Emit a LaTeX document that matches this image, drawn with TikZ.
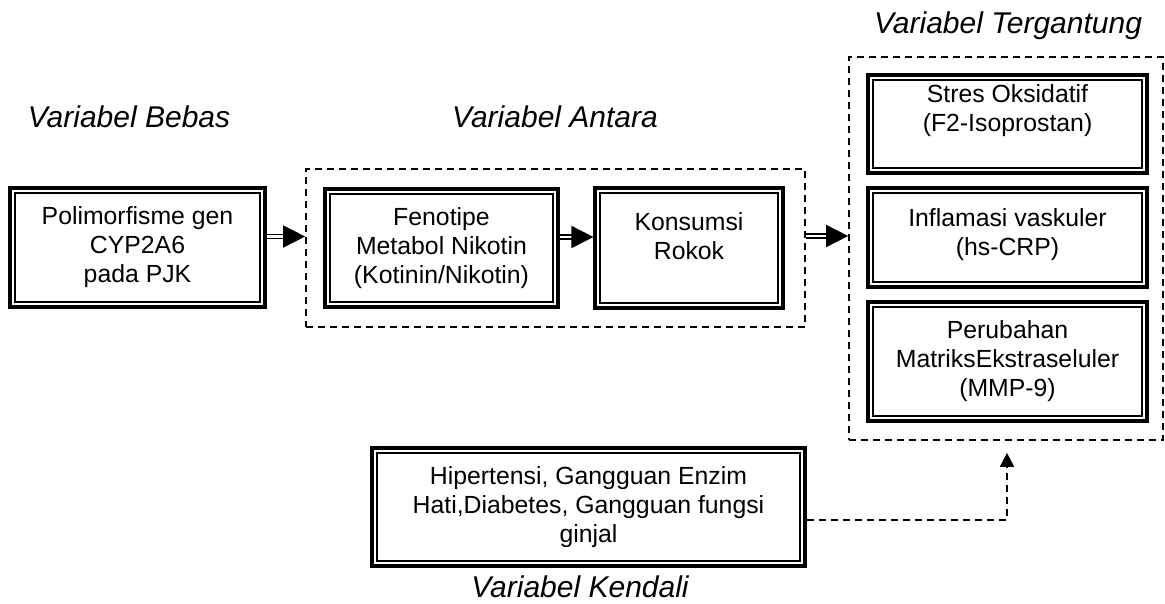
\documentclass[tikz,border=0pt]{standalone}
\usepackage{fontspec}
\setmainfont{Liberation Sans}
\usetikzlibrary{arrows.meta}
\begin{document}
\begin{tikzpicture}[x=1pt,y=-1pt,
  dbox/.style={draw, line width=3.2pt, inner sep=0pt, align=center,
    font=\fontsize{24.8}{29}\selectfont,
    path picture={\draw[line width=1.7pt]
      ([shift={(5pt,5pt)}]path picture bounding box.south west) rectangle
      ([shift={(-5pt,-5pt)}]path picture bounding box.north east);}},
  txt/.style={align=center, inner sep=0pt, font=\fontsize{24.8}{29}\selectfont},
  grp/.style={draw, line width=1.7pt, dash pattern=on 7pt off 5pt, inner sep=0pt},
  lab/.style={anchor=base, inner sep=0pt, font=\fontsize{30}{34}\selectfont\itshape},
  darrow/.style={double, double distance=2.2pt, line width=1.8pt,
    -{Triangle[length=22pt,width=22pt]}},
  karrow/.style={line width=1.7pt, dash pattern=on 7pt off 5pt,
    -{Triangle[length=14pt,width=14pt]}}
]
\useasboundingbox (0,0) rectangle (1165,603);
\fill[white] (0,0) rectangle (1165,603);

% groups
\node[grp, minimum width=499pt, minimum height=158pt] (antara) at (555.5,248) {};
\node[grp, minimum width=314pt, minimum height=383pt] (terg) at (1006,248.5) {};

% boxes
\node[dbox, minimum width=255pt, minimum height=119pt] (b1) at (137.5,247.5)
  {Polimorfisme gen\\CYP2A6\\pada PJK};
\node[dbox, minimum width=233pt, minimum height=118pt] (fen) at (441.5,248)
  {Fenotipe\\Metabol Nikotin\\(Kotinin/Nikotin)};
\node[dbox, minimum width=188pt, minimum height=120pt] (kon) at (689,248) {};
\node[txt] (kontxt) at ([yshift=12pt]kon.center) {Konsumsi\\Rokok};

\node[dbox, minimum width=279pt, minimum height=98pt] (stres) at (1007.5,124) {};
\node[txt] (strestxt) at ([yshift=13pt]stres.center) {Stres Oksidatif\\(F2-Isoprostan)};
\node[dbox, minimum width=279pt, minimum height=99pt] (infl) at (1007.5,237.5) {};
\node[txt] (infltxt) at ([yshift=3pt]infl.center) {Inflamasi vaskuler\\(hs-CRP)};
\node[dbox, minimum width=279pt, minimum height=119pt] (perub) at (1007.5,361.5)
  {Perubahan\\MatriksEkstraseluler\\(MMP-9)};

\node[dbox, minimum width=433pt, minimum height=118pt] (kend) at (588.5,507)
  {Hipertensi, Gangguan Enzim\\Hati,Diabetes, Gangguan fungsi\\ginjal};

% labels
\node[lab] (lbebas) at (129,127) {Variabel Bebas};
\node[lab] (lantara) at (555,127) {Variabel Antara};
\node[lab] (lterg) at (1008,33) {Variabel Tergantung};
\node[lab] (lkend) at (580,597) {Variabel Kendali};

% arrows
\draw[darrow] ([yshift=11pt]b1.east) -- ([yshift=11pt]b1.east -| antara.west);
\draw[darrow] ([yshift=11pt]fen.east) -- ([yshift=11pt]fen.east -| kon.west);
\draw[darrow] ([yshift=12pt]antara.east) -- ([yshift=12pt]antara.east -| terg.west);
\draw[karrow, shorten >=12pt] ([yshift=-13pt]kend.east) -| ([xshift=1pt]terg.south);
\end{tikzpicture}
\end{document}
